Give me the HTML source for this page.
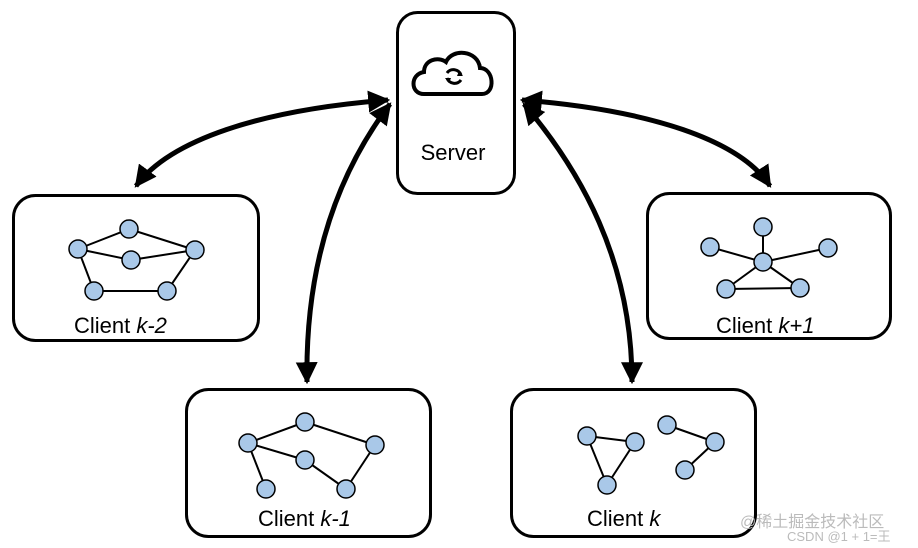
<!DOCTYPE html>
<html><head><meta charset="utf-8"><style>
html,body{margin:0;padding:0;background:#fff;}
svg{display:block;}
text{font-family:"Liberation Sans","DejaVu Sans",sans-serif;}
</style></head><body>
<svg width="918" height="548" viewBox="0 0 918 548" xmlns="http://www.w3.org/2000/svg">
<defs>
<marker id="ah" viewBox="0 0 10 10" refX="9" refY="5" markerWidth="4.4" markerHeight="4.4" orient="auto-start-reverse" markerUnits="strokeWidth">
<path d="M0,0 L10,5 L0,10 z" fill="#000"/></marker>
</defs>
<g fill="none" stroke="#000" stroke-width="3">
<rect x="397.5" y="12.5" width="117" height="181" rx="20"/>
<rect x="13.5" y="195.5" width="245" height="145" rx="22"/>
<rect x="186.5" y="389.5" width="244" height="147" rx="22"/>
<rect x="511.5" y="389.5" width="244" height="147" rx="22"/>
<rect x="647.5" y="193.5" width="243" height="145" rx="22"/>
</g>
<g fill="none" stroke="#000" stroke-width="5">
<path d="M388,100 C260,110 170,140 136,186" marker-start="url(#ah)" marker-end="url(#ah)"/>
<path d="M390,104 C340,170 305,260 307,382" marker-start="url(#ah)" marker-end="url(#ah)"/>
<path d="M522,100 C650,110 740,140 770,186" marker-start="url(#ah)" marker-end="url(#ah)"/>
<path d="M524,104 C580,170 632,260 632,382" marker-start="url(#ah)" marker-end="url(#ah)"/>
</g>
<path d="M424,94 C410,94 410,74 424,72 C424,60 438,56 446,62 C452,48 478,50 480,68 C494,68 496,94 482,94 Z" fill="none" stroke="#000" stroke-width="4"/>
<path d="M447,73 a8,8 0 0 1 14,2 M461,80 a8,8 0 0 1 -14,-2" fill="none" stroke="#000" stroke-width="3"/>
<path d="M459,71 l4,5 l-6,0z M449,83 l-4,-5 l6,0z" fill="#000"/>
<text x="453" y="160" font-size="22" text-anchor="middle">Server</text>
<g stroke="#000" stroke-width="2">
<line x1="78" y1="249" x2="129" y2="229"/><line x1="129" y1="229" x2="195" y2="250"/>
<line x1="78" y1="249" x2="131" y2="260"/><line x1="131" y1="260" x2="195" y2="250"/>
<line x1="78" y1="249" x2="94" y2="291"/><line x1="94" y1="291" x2="167" y2="291"/><line x1="167" y1="291" x2="195" y2="250"/>
<line x1="763" y1="262" x2="763" y2="227"/><line x1="763" y1="262" x2="710" y2="247"/><line x1="763" y1="262" x2="828" y2="248"/>
<line x1="763" y1="262" x2="726" y2="289"/><line x1="763" y1="262" x2="800" y2="288"/><line x1="726" y1="289" x2="800" y2="288"/>
<line x1="248" y1="443" x2="305" y2="422"/><line x1="305" y1="422" x2="375" y2="445"/>
<line x1="248" y1="443" x2="305" y2="460"/><line x1="305" y1="460" x2="346" y2="489"/><line x1="346" y1="489" x2="375" y2="445"/>
<line x1="248" y1="443" x2="266" y2="489"/>
<line x1="587" y1="436" x2="635" y2="442"/><line x1="635" y1="442" x2="607" y2="485"/><line x1="607" y1="485" x2="587" y2="436"/>
<line x1="667" y1="425" x2="715" y2="442"/><line x1="715" y1="442" x2="685" y2="470"/>
</g>
<g fill="#a9c8e8" stroke="#000" stroke-width="1.5">
<circle cx="78" cy="249" r="9"/><circle cx="129" cy="229" r="9"/><circle cx="195" cy="250" r="9"/><circle cx="131" cy="260" r="9"/><circle cx="94" cy="291" r="9"/><circle cx="167" cy="291" r="9"/>
<circle cx="763" cy="262" r="9"/><circle cx="763" cy="227" r="9"/><circle cx="710" cy="247" r="9"/><circle cx="828" cy="248" r="9"/><circle cx="726" cy="289" r="9"/><circle cx="800" cy="288" r="9"/>
<circle cx="248" cy="443" r="9"/><circle cx="305" cy="422" r="9"/><circle cx="375" cy="445" r="9"/><circle cx="305" cy="460" r="9"/><circle cx="266" cy="489" r="9"/><circle cx="346" cy="489" r="9"/>
<circle cx="587" cy="436" r="9"/><circle cx="635" cy="442" r="9"/><circle cx="607" cy="485" r="9"/><circle cx="667" cy="425" r="9"/><circle cx="715" cy="442" r="9"/><circle cx="685" cy="470" r="9"/>
</g>
<g font-size="22">
<text x="74" y="333">Client <tspan font-style="italic">k-2</tspan></text>
<text x="258" y="526">Client <tspan font-style="italic">k-1</tspan></text>
<text x="587" y="526">Client <tspan font-style="italic">k</tspan></text>
<text x="716" y="333">Client <tspan font-style="italic">k+1</tspan></text>
</g>
<text x="740" y="527" font-size="16" fill="#bbb" font-family="'Liberation Sans','Noto Sans CJK SC',sans-serif">@稀土掘金技术社区</text>
<text x="787" y="541" font-size="13" fill="#bbb">CSDN @1 + 1=王</text>
</svg>
</body></html>
